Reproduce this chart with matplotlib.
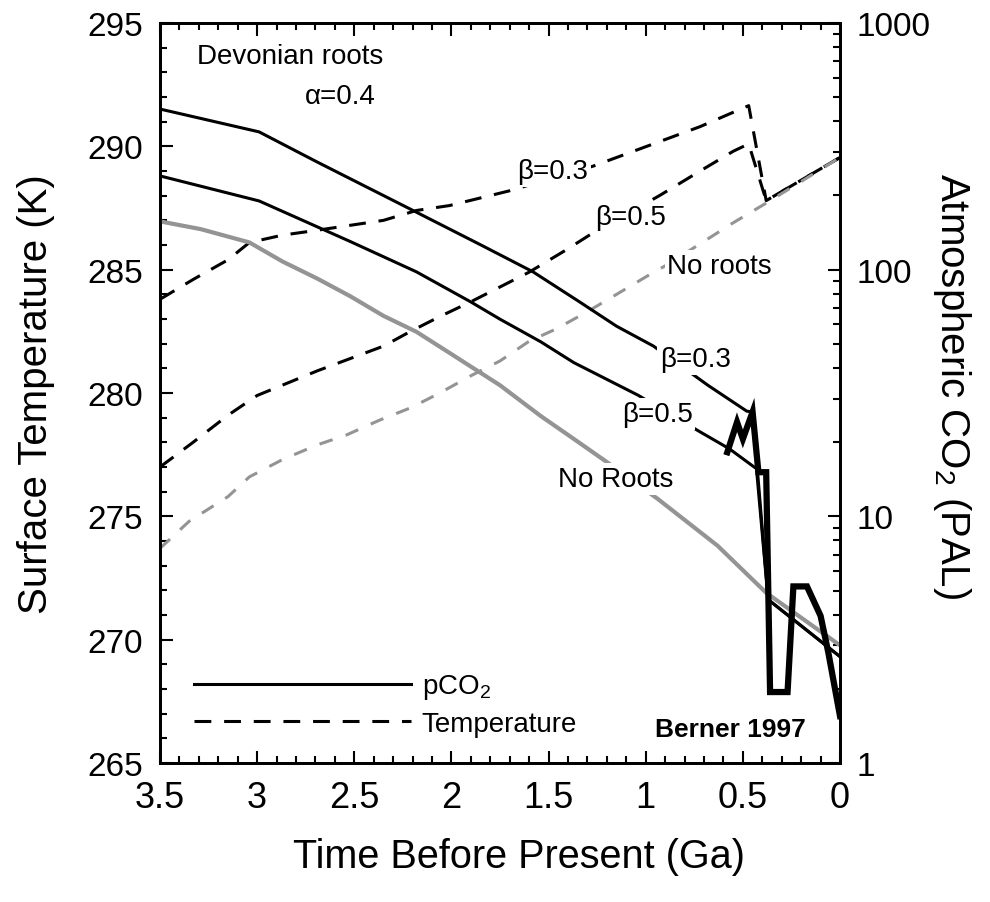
import matplotlib
matplotlib.use("Agg")
import matplotlib.pyplot as plt
from matplotlib.ticker import MultipleLocator, LogLocator, NullFormatter, FuncFormatter

plt.rcParams['font.family'] = ['Liberation Sans', 'DejaVu Sans']
plt.rcParams['mathtext.fontset'] = 'custom'
plt.rcParams['mathtext.rm'] = 'Liberation Sans'
plt.rcParams['mathtext.it'] = 'Liberation Sans:italic'

# surface temperature (K), dashed curves
t_ga_b03 = [3.50, 3.33, 3.15, 3.04, 2.87, 2.69, 2.52, 2.35, 2.18, 2.01, 1.70, 1.27, 0.72, 0.50, 0.47, 0.38, 0.0]
temp_b03 = [283.8, 284.6, 285.4, 286.1, 286.4, 286.6, 286.8, 287.0, 287.4, 287.6, 288.2, 289.2, 290.8, 291.55, 291.65, 287.8, 289.55]

t_ga_b05 = [3.50, 3.33, 3.15, 3.00, 2.69, 2.52, 2.35, 2.21, 2.06, 1.90, 1.75, 1.60, 1.41, 1.29, 0.93, 0.72, 0.55, 0.47, 0.38, 0.0]
temp_b05 = [277.0, 278.0, 279.1, 279.9, 280.9, 281.4, 281.9, 282.5, 283.1, 283.7, 284.3, 284.9, 285.8, 286.4, 288.0, 289.0, 289.8, 290.1, 287.8, 289.55]

t_ga_nr = [3.50, 3.35, 3.15, 3.04, 2.87, 2.69, 2.54, 2.37, 2.21, 2.06, 1.90, 1.75, 1.60, 1.46, 1.30, 1.15, 0.98, 0.89, 0.55, 0.38, 0.0]
temp_nr = [273.7, 274.8, 275.8, 276.6, 277.3, 277.9, 278.3, 278.9, 279.4, 280.0, 280.7, 281.3, 282.1, 282.6, 283.3, 284.0, 284.8, 285.2, 286.9, 287.7, 289.55]

# atmospheric CO2 (PAL), solid curves
co2_ga_b03 = [3.50, 2.99, 2.69, 2.18, 1.84, 1.58, 1.34, 1.15, 0.96, 0.68, 0.48, 0.45, 0.37, 0.0]
co2_b03 = [448, 362, 273, 171, 125, 98, 74, 59, 49, 34, 26.7, 26.5, 4.6, 2.7]

co2_ga_b05 = [3.50, 2.99, 2.52, 2.18, 1.90, 1.75, 1.54, 1.37, 1.04, 0.72, 0.57, 0.43, 0.37, 0.0]
co2_b05 = [240, 190, 130, 98, 74, 63, 51, 42, 31, 22, 18.8, 15.6, 4.6, 2.7]

co2_ga_nr = [3.50, 3.29, 3.04, 2.87, 2.69, 2.52, 2.35, 2.18, 2.01, 1.75, 1.54, 1.37, 1.20, 0.94, 0.63, 0.38, 0.0]
co2_nr = [157, 146, 129, 108, 92, 78, 65, 56, 46, 34, 25.5, 20.6, 16.6, 11.8, 7.6, 4.9, 3.0]

# thick jagged pCO2 trace of the last 0.6 Ga
jag_ga = [0.58, 0.53, 0.50, 0.45, 0.42, 0.38, 0.36, 0.27, 0.24, 0.17, 0.10, 0.06, 0.0]
jag_co2 = [18.2, 24.1, 20.6, 26.5, 15.1, 15.1, 1.94, 1.94, 5.2, 5.2, 3.95, 2.8, 1.55]

x_ticks = [3.5, 3, 2.5, 2, 1.5, 1, 0.5, 0]
t_ticks = [265, 270, 275, 280, 285, 290, 295]
co2_ticks = [1, 10, 100, 1000]

BLACK_LW = 2.2
GREY = '0.58'

fig = plt.figure(figsize=(9.9, 9.03), dpi=100)
ax = fig.add_axes([0.1616, 0.1539, 0.6869, 0.8195])
ax2 = ax.twinx()

# temperature (left axis)
lt3, = ax.plot(t_ga_b03, temp_b03, color='black', lw=BLACK_LW, dashes=(5.5, 4.2))
ax.plot(t_ga_b05, temp_b05, color='black', lw=BLACK_LW, dashes=(5.5, 4.2))
ax.plot(t_ga_nr, temp_nr, color=GREY, lw=2.2, dashes=(4.5, 4.5))

# CO2 (right axis)
lc3, = ax2.plot(co2_ga_b03, co2_b03, color='black', lw=BLACK_LW)
ax2.plot(co2_ga_b05, co2_b05, color='black', lw=BLACK_LW)
ax2.plot(co2_ga_nr, co2_nr, color=GREY, lw=3.0)
ax2.plot(jag_ga, jag_co2, color='black', lw=4.5, solid_joinstyle='miter')

ax.set_xlim(3.5, 0)
ax.set_ylim(265, 295)
ax2.set_yscale('log')
ax2.set_ylim(1, 1000)

ax.set_xticks(x_ticks)
ax.xaxis.set_major_formatter(FuncFormatter(lambda v, p: f'{v:g}'))
ax.xaxis.set_minor_locator(MultipleLocator(0.1))
ax.set_yticks(t_ticks)
ax.yaxis.set_minor_locator(MultipleLocator(1))
ax2.set_yticks(co2_ticks)
ax2.yaxis.set_major_formatter(FuncFormatter(lambda v, p: f'{v:g}'))
ax2.yaxis.set_minor_locator(LogLocator(base=10, subs=range(2, 10)))
ax2.yaxis.set_minor_formatter(NullFormatter())

ax.tick_params(which='both', direction='in', top=True, width=1.5)
ax.tick_params(which='major', length=9, pad=12)
ax.tick_params(which='minor', length=5)
ax.tick_params(axis='x', labelsize=26)
ax.tick_params(axis='y', labelsize=24)
ax2.tick_params(which='both', direction='in', width=1.5, labelsize=24)
ax2.tick_params(which='major', length=9, pad=12)
ax2.tick_params(which='minor', length=5)
for a in (ax, ax2):
    for s in a.spines.values():
        s.set_linewidth(2)

fig.text(0.036, 0.564, 'Surface Temperature (K)', rotation=90, fontsize=29,
         ha='center', va='center')
fig.text(0.962, 0.573, 'Atmospheric CO$_2$ (PAL)', rotation=-90, fontsize=29,
         ha='center', va='center')
fig.text(0.524, 0.051, 'Time Before Present (Ga)', fontsize=28.5, ha='center', va='center')

lab = dict(transform=ax2.transAxes, fontsize=20, va='center', ha='left', zorder=5,
           bbox=dict(fc='white', ec='none', pad=2))
ax2.text(0.054, 0.955, 'Devonian roots', transform=ax2.transAxes, fontsize=20, va='center')
ax2.text(0.213, 0.901, r'α=0.4', transform=ax2.transAxes, fontsize=20, va='center')
ax2.text(0.525, 0.800, 'β=0.3', **lab)
ax2.text(0.640, 0.738, 'β=0.5', **lab)
ax2.text(0.746, 0.672, 'No roots', **lab)
ax2.text(0.735, 0.546, 'β=0.3', **lab)
ax2.text(0.679, 0.472, 'β=0.5', **lab)
ax2.text(0.585, 0.384, 'No Roots', **lab)
ax2.text(0.728, 0.046, 'Berner 1997', transform=ax2.transAxes, fontsize=19,
         fontweight='bold', va='center')

ax2.legend([lc3, lt3], ['pCO$_2$', 'Temperature'], loc='lower left',
           bbox_to_anchor=(0.05, 0.035), frameon=False, fontsize=20,
           handlelength=7.8, handletextpad=0.4, labelspacing=0.35,
           borderpad=0, borderaxespad=0)

fig.savefig('out.png', dpi=100)
